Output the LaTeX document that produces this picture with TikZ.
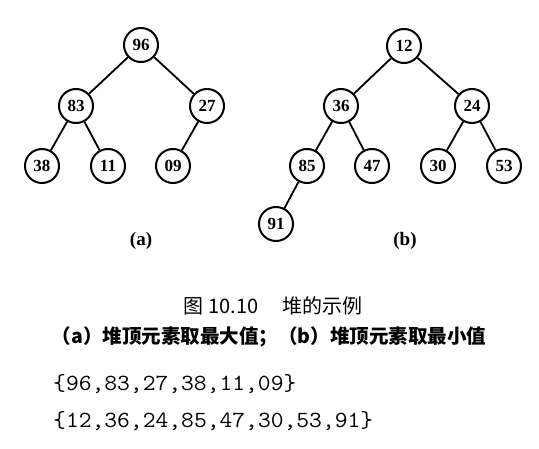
\documentclass[tikz,border=0pt]{standalone}
\usepackage{fontspec}
\usepackage{graphicx}
\usepackage{tikz}
\usetikzlibrary{positioning}
\newfontfamily\cjk{Noto Sans CJK SC}
\newfontfamily\keyfamily{Liberation Serif}
\newcommand{\KeyFont}{\keyfamily\bfseries\fontsize{17}{17}\selectfont}
\newcommand{\SetFont}{\ttfamily\fontsize{22}{22}\selectfont}

\begin{document}
\begin{tikzpicture}[x=1pt,y=-1pt,
  heapnode/.style={circle,draw=black,line width=2pt,minimum size=34pt,inner sep=0pt,font=\KeyFont},
  heapedge/.style={line width=1.8pt},
  sublabel/.style={font=\keyfamily\bfseries\fontsize{19}{19}\selectfont}]
  \useasboundingbox (0,0) rectangle (539,449);

  % Heap (a): largest key on top
  \node[heapnode] (a96) at (141,45) {96};
  \node[heapnode] (a83) at (76,106) {83};
  \node[heapnode] (a27) at (207,106) {27};
  \node[heapnode] (a38) at (42,166) {38};
  \node[heapnode] (a11) at (108,166) {11};
  \node[heapnode] (a09) at (173,166) {09};
  \draw[heapedge] (a96) -- (a83);
  \draw[heapedge] (a96) -- (a27);
  \draw[heapedge] (a83) -- (a38);
  \draw[heapedge] (a83) -- (a11);
  \draw[heapedge] (a27) -- (a09);
  \node[sublabel] (labA) at (141,241) {(a)};

  % Heap (b): smallest key on top
  \node[heapnode] (b12) at (404,46) {12};
  \node[heapnode] (b36) at (341,106) {36};
  \node[heapnode] (b24) at (472,106) {24};
  \node[heapnode] (b85) at (307,166) {85};
  \node[heapnode] (b47) at (372,166) {47};
  \node[heapnode] (b30) at (438,166) {30};
  \node[heapnode] (b53) at (504,166) {53};
  \node[heapnode] (b91) at (276,224) {91};
  \foreach \p/\c in {b12/b36,b12/b24,b36/b85,b36/b47,b24/b30,b24/b53,b85/b91}
    \draw[heapedge] (\p) -- (\c);
  \node[sublabel] (labB) at (405,241) {(b)};

  % Caption
  \node[font=\cjk\fontsize{20}{20}\selectfont] (capA) at (273,306) {图 10.10\hspace{1.2em}堆的示例};
  \node[font=\cjk\bfseries\fontsize{19.5}{19.5}\selectfont] (capB) at (269,337) {（a）堆顶元素取最大值；（b）堆顶元素取最小值};

  % Sequences
  \node[anchor=west,inner sep=0pt,font=\SetFont] (seqA) at (53,384) {\scalebox{1.13}[1.05]{\{96,83,27,38,11,09\}}};
  \node[anchor=west,inner sep=0pt,font=\SetFont] (seqB) at (53,421) {\scalebox{1.13}[1.05]{\{12,36,24,85,47,30,53,91\}}};
\end{tikzpicture}
\end{document}
